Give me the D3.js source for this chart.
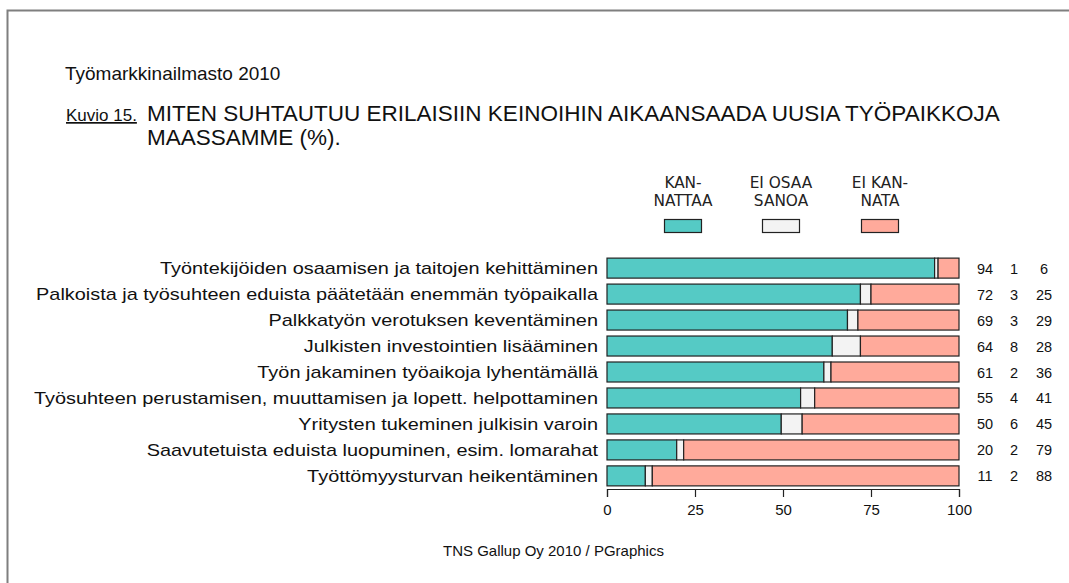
<!DOCTYPE html>
<html><head><meta charset="utf-8">
<script src="https://cdn.jsdelivr.net/npm/d3@7"></script>
<style>body{margin:0;background:#fff}svg{display:block}</style>
</head><body>
<script>
const categories = [
  "Työntekijöiden osaamisen ja taitojen kehittäminen",
  "Palkoista ja työsuhteen eduista päätetään enemmän työpaikalla",
  "Palkkatyön verotuksen keventäminen",
  "Julkisten investointien lisääminen",
  "Työn jakaminen työaikoja lyhentämällä",
  "Työsuhteen perustamisen, muuttamisen ja lopett. helpottaminen",
  "Yritysten tukeminen julkisin varoin",
  "Saavutetuista eduista luopuminen, esim. lomarahat",
  "Työttömyysturvan heikentäminen"
];
const kannattaa = [94, 72, 69, 64, 61, 55, 50, 20, 11];
const eiOsaa    = [1, 3, 3, 8, 2, 4, 6, 2, 2];
const eiKannata = [6, 25, 29, 28, 36, 41, 45, 79, 88];
const seriesNames = [["KAN-","NATTAA"],["EI OSAA","SANOA"],["EI KAN-","NATA"]];
const colors = ["#55cac5", "#f3f3f3", "#ffaa9b"];
const xTicks = [0, 25, 50, 75, 100];

const W = 1069, H = 583;
const FONT = "'Liberation Sans', Arial, sans-serif";
const svg = d3.select("body").append("svg").attr("width", W).attr("height", H)
  .style("font-family", FONT);

// frame
svg.append("path").attr("d", `M7.5,${H+5} L7.5,10.5 L${W+5},10.5`)
  .attr("fill","none").attr("stroke","#7f7f7f").attr("stroke-width",2);

svg.append("text").attr("x",65).attr("y",80).attr("font-size",19).attr("fill","#111").text("Työmarkkinailmasto 2010");
svg.append("text").attr("x",66).attr("y",121).attr("font-size",17).attr("fill","#111")
  .attr("text-decoration","underline").text("Kuvio 15.");
svg.append("text").attr("x",147).attr("y",121).attr("font-size",22.5).attr("fill","#111")
  .text("MITEN SUHTAUTUU ERILAISIIN KEINOIHIN AIKAANSAADA UUSIA TYÖPAIKKOJA");
svg.append("text").attr("x",147).attr("y",145).attr("font-size",22.5).attr("fill","#111")
  .text("MAASSAMME (%).");

const x = d3.scaleLinear().domain([0,100]).range([607, 959]);
const y = d3.scaleBand().domain(categories).range([255, 489]).paddingInner(0.23).paddingOuter(0.12);

const data = categories.map((c,i)=>{
  const vals=[kannattaa[i], eiOsaa[i], eiKannata[i]];
  const tot=d3.sum(vals);
  let acc=0;
  return {c, vals, segs: vals.map((v,j)=>{const s={j, x0:acc/tot*100, x1:(acc+v)/tot*100}; acc+=v; return s;})};
});

const rows = svg.append("g").selectAll("g").data(data).join("g");
rows.selectAll("rect").data(d=>d.segs.map(s=>({...s,c:d.c}))).join("rect")
  .attr("x",s=>x(s.x0)).attr("width",s=>x(s.x1)-x(s.x0))
  .attr("y",s=>y(s.c)).attr("height",y.bandwidth())
  .attr("fill",s=>colors[s.j]).attr("stroke","#222").attr("stroke-width",1.2);
rows.append("text")
  .attr("transform",d=>`translate(598,${y(d.c)+y.bandwidth()/2+6}) scale(1.245,1)`)
  .attr("text-anchor","end").attr("font-size",16).attr("fill","#111").text(d=>d.c);
const numX=[985,1014,1044];
rows.selectAll("text.v").data(d=>d.vals.map((v,j)=>({v,j,c:d.c}))).join("text").attr("class","v")
  .attr("x",d=>numX[d.j]).attr("y",d=>y(d.c)+y.bandwidth()/2+5.5)
  .attr("text-anchor","middle").attr("font-size",14.5).attr("fill","#111").text(d=>d.v);

// axis
const ax = svg.append("g").attr("transform","translate(0,489)")
  .call(d3.axisBottom(x).tickValues(xTicks).tickSize(8).tickPadding(7));
ax.select(".domain").attr("stroke","#222").attr("stroke-width",1.2);
ax.selectAll(".tick line").attr("stroke","#222").attr("stroke-width",1.2);
ax.selectAll("text").attr("font-size",15).attr("fill","#111").style("font-family",FONT);

// legend
const legX=[683,781,880];
const leg = svg.append("g").selectAll("g").data(seriesNames).join("g");
leg.each(function(lines,i){
  const g=d3.select(this);
  lines.forEach((t,k)=>g.append("text")
    .attr("transform",`translate(${legX[i]},${188+k*18}) scale(1.1,1)`)
    .attr("text-anchor","middle").attr("font-size",15.5).attr("fill","#222")
    .style("font-family","'Liberation Sans Narrow', 'DejaVu Sans Condensed', sans-serif")
    .text(t));
  g.append("rect").attr("x",legX[i]-18.5).attr("y",219.5).attr("width",37).attr("height",13)
    .attr("fill",colors[i]).attr("stroke","#222").attr("stroke-width",1.2);
});

svg.append("text").attr("x",443).attr("y",556).attr("font-size",15).attr("fill","#111")
  .text("TNS Gallup Oy 2010 / PGraphics");
</script>
</body></html>
